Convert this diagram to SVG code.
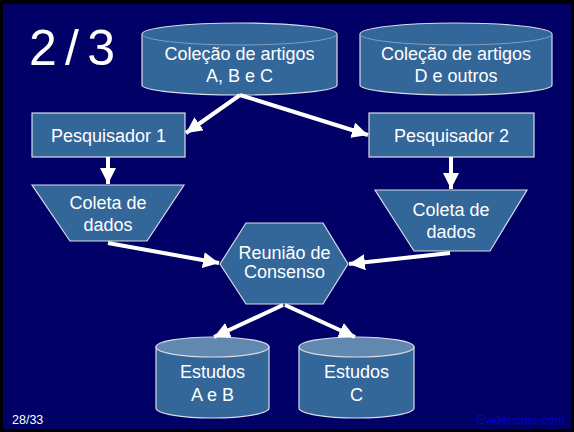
<svg xmlns="http://www.w3.org/2000/svg" width="574" height="432" viewBox="0 0 574 432">
<defs>
<style>
.shape{fill:#336699;stroke:#d8dce8;stroke-width:1.2}
.topface{fill:#6189b0;stroke:#d8dce8;stroke-width:1.2}
.faint{fill:none;stroke:#7f9fc0;stroke-width:1}
.t{font-family:"Liberation Sans",Arial,sans-serif;font-size:18px;fill:#ffffff;text-anchor:middle}
.conn{stroke:#ffffff;stroke-width:4;fill:none}
</style>
<marker id="ah" viewBox="0 0 10 10" refX="10" refY="5" markerWidth="4" markerHeight="4" orient="auto" markerUnits="strokeWidth">
<path d="M0,0 L10,5 L0,10 Z" fill="#ffffff"/>
</marker>
</defs>
<rect x="0" y="0" width="574" height="432" fill="#000000"/>
<rect x="3" y="4" width="568" height="425" fill="#000066"/>
<text x="29" y="65" font-family="'Liberation Sans',Arial,sans-serif" font-size="50" fill="#ffffff" textLength="86" lengthAdjust="spacing">2/3</text>

<g id="colecao-abc">
<path class="shape" d="M142,34 A97.5,11 0 0 1 337,34 L337,85 A97.5,10 0 0 1 142,85 Z"/>
<path class="faint" d="M142,34 A97.5,11 0 0 0 337,34"/>
<text class="t" x="239.5" y="60">Coleção de artigos</text>
<text class="t" x="239.5" y="82">A, B e C</text>
</g>
<g id="colecao-d">
<path class="shape" d="M360,34 A96,11 0 0 1 552,34 L552,85 A96,10 0 0 1 360,85 Z"/>
<path class="faint" d="M360,34 A96,11 0 0 0 552,34"/>
<text class="t" x="456" y="60">Coleção de artigos</text>
<text class="t" x="456" y="82">D e outros</text>
</g>
<g id="pesquisador1">
<rect class="shape" x="32" y="113" width="153" height="44"/>
<text class="t" x="108.5" y="142">Pesquisador 1</text>
</g>
<g id="pesquisador2">
<rect class="shape" x="369" y="113" width="165" height="44"/>
<text class="t" x="451.5" y="142">Pesquisador 2</text>
</g>
<g id="coleta1">
<path class="shape" d="M32,185 L184,185 L147,241 L70,241 Z"/>
<text class="t" x="108" y="209">Coleta de</text>
<text class="t" x="108" y="231">dados</text>
</g>
<g id="coleta2">
<path class="shape" d="M375,190 L527,190 L490,251 L414,251 Z"/>
<text class="t" x="451" y="216">Coleta de</text>
<text class="t" x="451" y="238">dados</text>
</g>
<g id="reuniao">
<path class="shape" d="M220,264 L246,223 L323,223 L348,264 L323,304 L246,304 Z"/>
<text class="t" x="284.5" y="259">Reunião de</text>
<text class="t" x="284.5" y="278">Consenso</text>
</g>
<g id="estudos-ab">
<path class="shape" d="M156,347 L156,408 A56.5,10 0 0 0 269,408 L269,347 Z"/>
<ellipse class="topface" cx="212.5" cy="347" rx="56.5" ry="10"/>
<text class="t" x="212.5" y="378">Estudos</text>
<text class="t" x="212.5" y="401">A e B</text>
</g>
<g id="estudos-c">
<path class="shape" d="M299,347 L299,408 A57.5,10 0 0 0 414,408 L414,347 Z"/>
<ellipse class="topface" cx="356.5" cy="347" rx="57.5" ry="10"/>
<text class="t" x="356.5" y="378">Estudos</text>
<text class="t" x="356.5" y="401">C</text>
</g>
<g id="connectors">
<line class="conn" x1="240" y1="95" x2="186" y2="133" marker-end="url(#ah)"/>
<line class="conn" x1="240" y1="95" x2="368" y2="135" marker-end="url(#ah)"/>
<line class="conn" x1="108" y1="157" x2="108" y2="184" marker-end="url(#ah)"/>
<line class="conn" x1="451" y1="157" x2="451" y2="189" marker-end="url(#ah)"/>
<line class="conn" x1="108" y1="243" x2="219" y2="263" marker-end="url(#ah)"/>
<line class="conn" x1="450" y1="253" x2="349" y2="264" marker-end="url(#ah)"/>
<line class="conn" x1="283" y1="305" x2="214" y2="337" marker-end="url(#ah)"/>
<line class="conn" x1="285" y1="305" x2="355" y2="337" marker-end="url(#ah)"/>
</g>
<text x="12" y="424" font-family="'Liberation Sans',Arial,sans-serif" font-size="12.5" fill="#ffffff">28/33</text>
<text x="565" y="424" font-family="'Liberation Sans',Arial,sans-serif" font-size="12.7" fill="#0000cc" text-anchor="end">Evidências.com</text>
</svg>
